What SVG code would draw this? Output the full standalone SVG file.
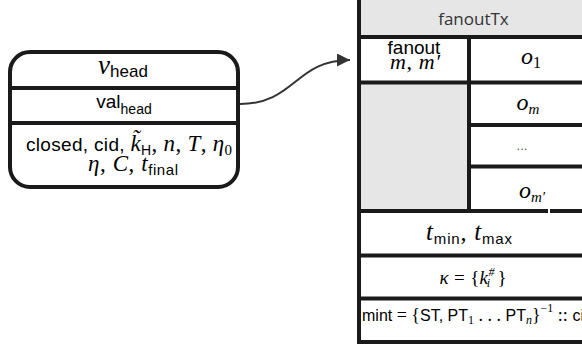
<svg xmlns="http://www.w3.org/2000/svg" width="582" height="349" viewBox="0 0 582 349">
<style>
.ln{stroke:#1a1a1a;stroke-width:4;fill:none}
.gray{fill:#e6e6e6}
.sf{font-family:"Liberation Sans",Arial,sans-serif;fill:#000}
.mi{font-family:"Liberation Serif","Times New Roman",serif;font-style:italic;fill:#000}
.mr{font-family:"Liberation Serif","Times New Roman",serif;fill:#000}
.hdr{font-family:"Open Sans","Noto Sans",sans-serif;font-size:17px;fill:#333}
</style>
<defs>
<marker id="arrow" markerUnits="userSpaceOnUse" markerWidth="14" markerHeight="14" refX="13" refY="6.5" orient="auto">
<path d="M0,0 L13,6.5 L0,13 z" fill="#333"/>
</marker>
</defs>
<rect width="582" height="349" fill="#fff"/>

<g id="node-head">
<rect x="10" y="52" width="228" height="135" rx="20" ry="20" fill="#fff" class="ln"/>
<line class="ln" x1="10" y1="88" x2="238" y2="88"/>
<line class="ln" x1="10" y1="123" x2="238" y2="123"/>
<text x="123" y="74" text-anchor="middle"><tspan class="mi" font-size="27">ν</tspan><tspan class="sf" font-size="17" dy="3">head</tspan></text>
<text x="124" y="108" text-anchor="middle"><tspan class="sf" font-size="19">val</tspan><tspan class="sf" font-size="14" dy="6">head</tspan></text>
<text x="129" y="151" text-anchor="middle" textLength="206" lengthAdjust="spacing"><tspan class="sf" font-size="19">closed, cid, </tspan><tspan class="mi" font-size="23">k̃</tspan><tspan class="sf" font-size="14" dy="4">H</tspan><tspan class="mr" font-size="23" dy="-4">, </tspan><tspan class="mi" font-size="23">n</tspan><tspan class="mr" font-size="23">, </tspan><tspan class="mi" font-size="23">T</tspan><tspan class="mr" font-size="23">, </tspan><tspan class="mi" font-size="23">η</tspan><tspan class="mr" font-size="15" dy="4">0</tspan></text>
<text x="133" y="171" text-anchor="middle" textLength="90" lengthAdjust="spacing"><tspan class="mi" font-size="23">η</tspan><tspan class="mr" font-size="23">, </tspan><tspan class="mi" font-size="23">C</tspan><tspan class="mr" font-size="23">, </tspan><tspan class="mi" font-size="23">t</tspan><tspan class="sf" font-size="15" dy="4">final</tspan></text>
</g>

<g id="node-fanoutTx">
<rect x="359" y="-5" width="235" height="42" class="gray"/>
<rect x="359" y="82" width="110" height="129" class="gray"/>
<line class="ln" x1="359" y1="-5" x2="359" y2="344"/>
<line class="ln" x1="357" y1="37" x2="594" y2="37"/>
<line class="ln" x1="357" y1="82.5" x2="594" y2="82.5"/>
<line class="ln" x1="469" y1="125" x2="594" y2="125"/>
<line class="ln" x1="469" y1="166.5" x2="594" y2="166.5"/>
<line class="ln" x1="469" y1="37" x2="469" y2="211"/>
<line class="ln" x1="357" y1="211" x2="548" y2="211"/>
<line class="ln" x1="550" y1="211" x2="594" y2="211"/>
<line class="ln" x1="357" y1="255.5" x2="594" y2="255.5"/>
<line class="ln" x1="357" y1="298.5" x2="594" y2="298.5"/>
<line class="ln" x1="357" y1="342" x2="594" y2="342"/>
<text class="hdr" x="473.5" y="25" text-anchor="middle">fanoutTx</text>
<text class="sf" x="414" y="54" font-size="19" text-anchor="middle">fanout</text>
<text x="415" y="69" text-anchor="middle" textLength="50" lengthAdjust="spacing"><tspan class="mi" font-size="22">m</tspan><tspan class="mr" font-size="22">, </tspan><tspan class="mi" font-size="22">m′</tspan></text>
<text x="531" y="64" text-anchor="middle"><tspan class="mi" font-size="24">o</tspan><tspan class="mr" font-size="16" dy="4">1</tspan></text>
<text x="528" y="110" text-anchor="middle"><tspan class="mi" font-size="24">o</tspan><tspan class="mi" font-size="15" dy="4">m</tspan></text>
<text x="522" y="150" text-anchor="middle" font-family="Liberation Sans,Arial,sans-serif" font-size="13" fill="#555">...</text>
<text x="532" y="198" text-anchor="middle"><tspan class="mi" font-size="24">o</tspan><tspan class="mi" font-size="15" dy="4">m′</tspan></text>
<text x="469" y="240" text-anchor="middle" textLength="86" lengthAdjust="spacing"><tspan class="mi" font-size="25">t</tspan><tspan class="sf" font-size="15" dy="4">min</tspan><tspan class="mr" font-size="24" dy="-4">, </tspan><tspan class="mi" font-size="25">t</tspan><tspan class="sf" font-size="15" dy="4">max</tspan></text>
<text x="473" y="284" text-anchor="middle" textLength="67" lengthAdjust="spacing"><tspan class="mi" font-size="19">κ</tspan><tspan class="mr" font-size="19"> = {</tspan><tspan class="mi" font-size="19">k</tspan><tspan class="mi" font-size="12" dy="-8">#</tspan><tspan class="mi" font-size="12" dx="-8" dy="11">i</tspan><tspan class="mr" font-size="19" dx="7" dy="-3">}</tspan></text>
<text x="362" y="321"><tspan class="sf" font-size="16">mint </tspan><tspan class="mr" font-size="18">= {</tspan><tspan class="sf" font-size="16">ST, PT</tspan><tspan class="mr" font-size="12" dy="3">1</tspan><tspan class="mr" font-size="18" dy="-3"> . . . </tspan><tspan class="sf" font-size="16">PT</tspan><tspan class="mi" font-size="12" dy="3">n</tspan><tspan class="mr" font-size="18" dy="-3">}</tspan><tspan class="mr" font-size="12" dy="-9">−1</tspan><tspan class="mr" font-size="18" dy="9"> :: </tspan><tspan class="sf" font-size="16">cid</tspan></text>
</g>

<g id="connectors">
<path d="M240,104 C295,104 295,60 350,60" fill="none" stroke="#333" stroke-width="2" marker-end="url(#arrow)"/>
</g>
</svg>
